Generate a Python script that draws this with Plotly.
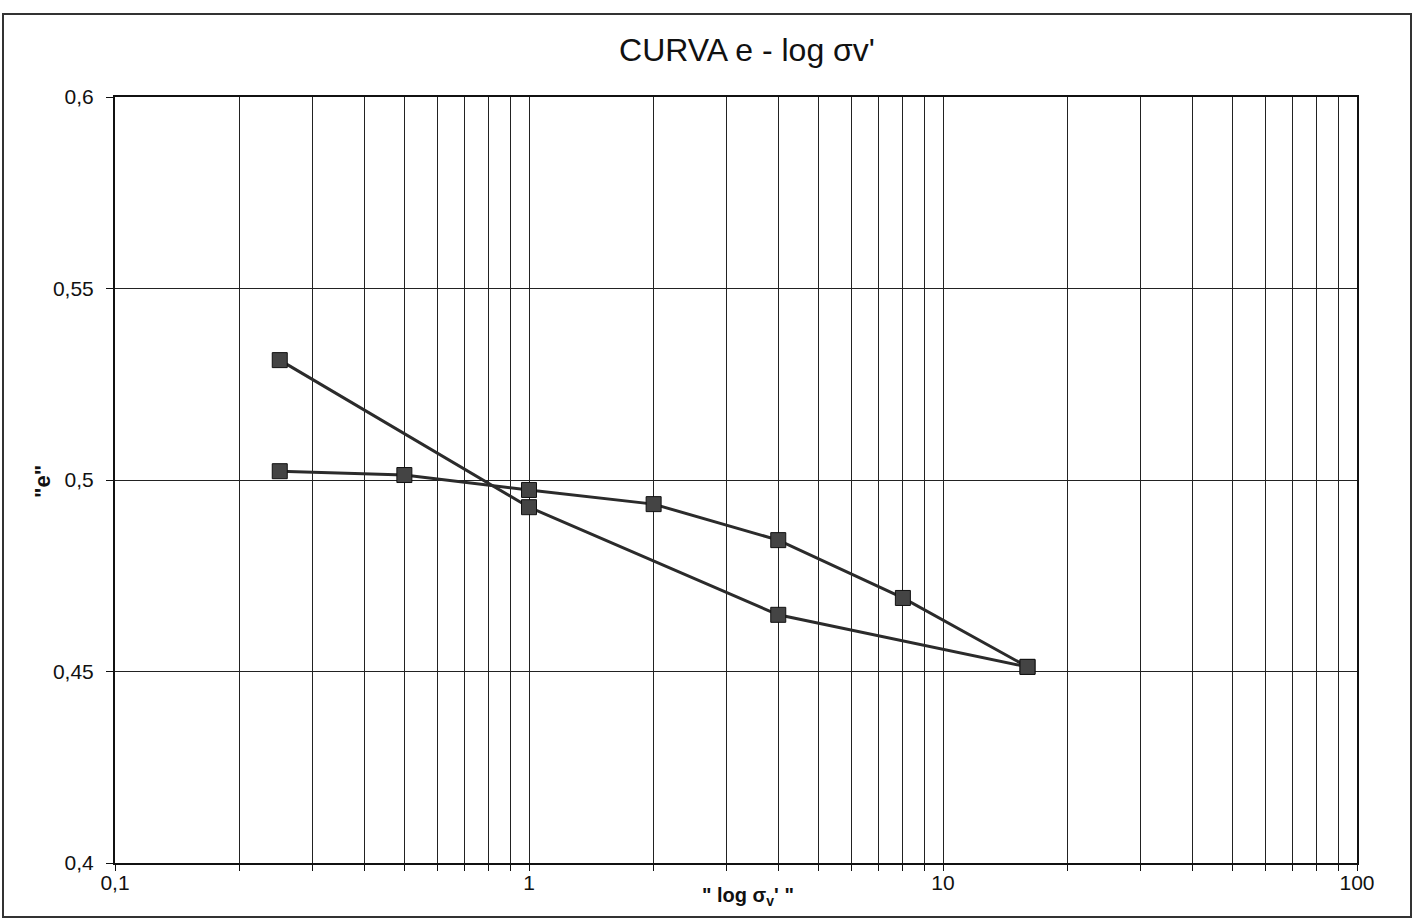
import plotly.graph_objects as go

# Data
sigma_load = [0.25, 0.5, 1, 2, 4, 8, 16]
e_load = [0.5023, 0.5013, 0.4974, 0.4937, 0.4843, 0.4692, 0.4512]
sigma_unload = [16, 4, 1, 0.25]
e_unload = [0.4512, 0.4648, 0.4929, 0.5313]

x_tickvals = [m * 10 ** d for d in (-1, 0, 1) for m in range(1, 10)] + [100]
x_ticktext = [("0,1" if v == 0.1 else "1" if v == 1 else "10" if v == 10 else "") for v in x_tickvals[:-1]] + ["100"]
y_tickvals = [0.4, 0.45, 0.5, 0.55, 0.6]
y_ticktext = ["0,4", "0,45", "0,5", "0,55", "0,6"]

W, H = 1419, 922
ml, mr, mt, mb = 115, 62, 97, 59
pw, ph = W - ml - mr, H - mt - mb

line_style = dict(color="#2b2b2b", width=3)
marker_style = dict(symbol="square", size=15, color="#444444", line=dict(color="#111111", width=1))

fig = go.Figure()
fig.add_trace(go.Scatter(x=sigma_load, y=e_load, mode="lines+markers",
                         line=line_style, marker=marker_style, showlegend=False))
fig.add_trace(go.Scatter(x=sigma_unload, y=e_unload, mode="lines+markers",
                         line=line_style, marker=marker_style, showlegend=False))

fig.update_layout(
    width=W, height=H,
    margin=dict(l=ml, r=mr, t=mt, b=mb, autoexpand=False),
    paper_bgcolor="white", plot_bgcolor="white",
    font=dict(family="Liberation Sans, Arial, sans-serif", color="#111111"),
    title=dict(text="CURVA e - log σv'", x=747 / W, xanchor="center",
               y=1 - 50 / H, yanchor="middle", font=dict(size=32, color="#111111")),
    separators=",.",
)

fig.update_xaxes(
    type="log", range=[-1, 2], automargin=False,
    tickvals=x_tickvals, ticktext=x_ticktext,
    showgrid=True, gridcolor="#222222", gridwidth=1,
    showline=True, linecolor="#111111", linewidth=2, mirror=True,
    ticks="outside", ticklen=6, tickcolor="#111111", tickwidth=1,
    tickfont=dict(size=21), ticklabelstandoff=-6,
    zeroline=False,
)
fig.update_yaxes(
    range=[0.4, 0.6], automargin=False,
    tickvals=y_tickvals, ticktext=y_ticktext,
    showgrid=True, gridcolor="#222222", gridwidth=1,
    showline=True, linecolor="#111111", linewidth=2, mirror=True,
    ticks="outside", ticklen=7, tickcolor="#111111", tickwidth=1,
    tickfont=dict(size=21), ticklabelstandoff=8,
    zeroline=False,
)

# axis titles
fig.add_annotation(text='<b>" log σ<sub>v</sub>\' "</b>', xref="paper", yref="paper",
                   x=(748 - ml) / pw, y=-(897 - (H - mb)) / ph,
                   xanchor="center", yanchor="middle", showarrow=False,
                   font=dict(size=20, color="#111111"))
fig.add_annotation(text='<b>"e"</b>', xref="paper", yref="paper",
                   x=(42 - ml) / pw, y=((H - mb) - 482) / ph, textangle=-90,
                   xanchor="center", yanchor="middle", showarrow=False,
                   font=dict(size=22, color="#111111"))

# outer chart border
fig.add_shape(type="rect", xref="paper", yref="paper",
              x0=(3 - ml) / pw, x1=(1411 - ml) / pw,
              y0=-(917 - (H - mb)) / ph, y1=((H - mb) - 14) / ph,
              line=dict(color="#333333", width=2), layer="below")

fig.write_html(
    "out.html",
    config={"displayModeBar": False},
    post_script="document.body.style.margin='0';document.body.style.overflow='hidden';",
)
